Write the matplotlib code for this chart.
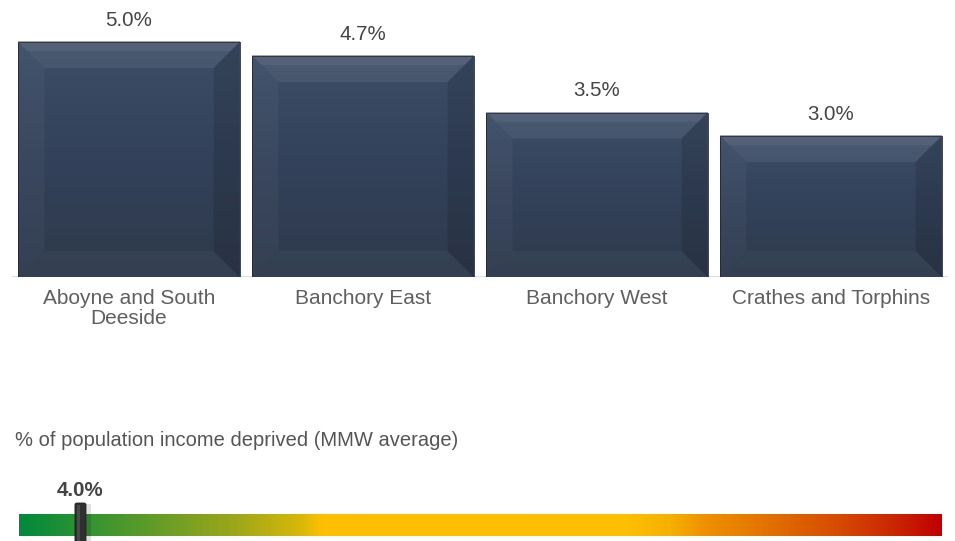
import numpy as np
import matplotlib
matplotlib.use("Agg")
import matplotlib.pyplot as plt
from matplotlib.colors import LinearSegmentedColormap
from matplotlib.patches import Polygon, FancyBboxPatch, Rectangle
import matplotlib.transforms as mtransforms

plt.rcParams['font.family'] = ['Liberation Sans', 'DejaVu Sans']

# ---------------- data ----------------
categories = ["Aboyne and South\nDeeside", "Banchory East", "Banchory West", "Crathes and Torphins"]
values = [5.0, 4.7, 3.5, 3.0]
value_labels = ["5.0%", "4.7%", "3.5%", "3.0%"]
gauge_title = "% of population income deprived (MMW average)"
gauge_value = 4.0
gauge_label = "4.0%"
gauge_min, gauge_max = 0.0, 60.0

W, H = 955, 541
fig = plt.figure(figsize=(W / 100, H / 100), dpi=100)
fig.patch.set_facecolor("white")

# ---------------- bar chart ----------------
ax_l, ax_r, ax_top, ax_bot = 12, 948, 0, 277
ax = fig.add_axes([ax_l / W, 1 - ax_bot / H, (ax_r - ax_l) / W, (ax_bot - ax_top) / H])
ymax = 277 / 47.0
ax.set_xlim(-0.5, len(values) - 0.5)
ax.set_ylim(0, ymax)
for s in ax.spines.values():
    s.set_visible(False)
ax.set_yticks([])
x = np.arange(len(values))
bw = 0.945
bars = ax.bar(x, values, width=bw, color="#36445a", edgecolor="none", zorder=2)
ax.set_xticks(x)
ax.set_xticklabels(categories, fontsize=15, color="#5f5f5f", linespacing=1.0)
ax.tick_params(axis="x", length=0, pad=9)
ax.axhline(0, color="#d9d9d9", lw=1.2, zorder=1)

px_x = (ax_r - ax_l) / len(values)
px_y = 47.0
bev = 26
bx, by = bev / px_x, bev / px_y

grad_cmap = LinearSegmentedColormap.from_list("body", ["#2e3a4c", "#33415a", "#3d4e67"])
grad = np.linspace(0, 1, 256).reshape(-1, 1)
for b in bars:
    x0, w, h = b.get_x(), b.get_width(), b.get_height()
    x1 = x0 + w
    im = ax.imshow(grad, extent=[x0, x1, h, 0], aspect="auto", cmap=grad_cmap,
                   zorder=2.5, origin="upper")
    im.set_clip_path(b)
    # bevels (soft)
    top = Polygon([[x0, h], [x1, h], [x1 - bx, h - by], [x0 + bx, h - by]],
                  closed=True, facecolor="white", alpha=0.07, edgecolor="none", zorder=3)
    left = Polygon([[x0, h], [x0 + bx, h - by], [x0 + bx, by], [x0, 0]],
                   closed=True, facecolor="white", alpha=0.035, edgecolor="none", zorder=3)
    right = Polygon([[x1, h], [x1 - bx, h - by], [x1 - bx, by], [x1, 0]],
                    closed=True, facecolor="black", alpha=0.12, edgecolor="none", zorder=3)
    bottom = Polygon([[x0, 0], [x1, 0], [x1 - bx, by], [x0 + bx, by]],
                     closed=True, facecolor="white", alpha=0.03, edgecolor="none", zorder=3)
    for p in (top, left, right, bottom):
        ax.add_patch(p)
    # lighter strip right at the top edge
    ax.add_patch(Polygon([[x0, h], [x1, h], [x1 - bx * 0.35, h - by * 0.35],
                          [x0 + bx * 0.35, h - by * 0.35]], closed=True,
                         facecolor="white", alpha=0.06, edgecolor="none", zorder=3))
    ax.plot([x0, x1], [h, h], color="#8d97a6", lw=1.2, zorder=4, solid_capstyle="butt")
    ax.add_patch(Rectangle((x0, 0), w, h, facecolor="none", edgecolor="#1f2835",
                           lw=0.6, zorder=4))

for xi, v, lab in zip(x, values, value_labels):
    ax.annotate(lab, (xi, v), xytext=(0, 12), textcoords="offset pixels",
                ha="center", va="bottom", fontsize=14.8, color="#444444")

# ---------------- gauge ----------------
fig.text(15 / W, 1 - 440 / H, gauge_title, fontsize=14.5, color="#555555",
         ha="left", va="center")

g_l, g_r, g_t, g_b = 19, 941, 514, 536
gax = fig.add_axes([g_l / W, 1 - g_b / H, (g_r - g_l) / W, (g_b - g_t) / H])
gax.set_xlim(gauge_min, gauge_max)
gax.set_ylim(0, 1)
gax.axis("off")
stops = [(0.0, "#008a3c"), (0.087, "#3c9530"), (0.23, "#9aa61a"), (0.305, "#d8b808"),
         (0.326, "#fdc000"), (0.66, "#fdc000"), (0.706, "#f6b000"), (0.742, "#ef9200"),
         (0.815, "#e27000"), (0.887, "#d64c00"), (0.959, "#c92000"), (1.0, "#c00000")]
gcmap = LinearSegmentedColormap.from_list("gauge", stops)
gax.imshow(np.linspace(0, 1, 512).reshape(1, -1), extent=[gauge_min, gauge_max, 0, 1],
           aspect="auto", cmap=gcmap, zorder=1)

mw = 11 / ((g_r - g_l) / (gauge_max - gauge_min))
# shadow
gax.add_patch(Rectangle((gauge_value + mw / 2, -0.5), mw * 0.5, 1.95, facecolor="black",
                        alpha=0.12, edgecolor="none", clip_on=False, zorder=2))
gax.add_patch(FancyBboxPatch((gauge_value - mw / 2, -0.5), mw, 2.0,
                             boxstyle="round,pad=0,rounding_size=0.15",
                             mutation_aspect=1 / 2.0,
                             facecolor="#2f2f2f", edgecolor="#1e1e1e", lw=0.6,
                             clip_on=False, zorder=3))
gax.add_patch(Rectangle((gauge_value - mw * 0.3, -0.5), mw * 0.25, 1.9, facecolor="#4a4a4a",
                        edgecolor="none", clip_on=False, zorder=4))
trans = mtransforms.blended_transform_factory(gax.transData, gax.transAxes)
gax.text(gauge_value, (g_b - 490) / (g_b - g_t), gauge_label, transform=trans,
         ha="center", va="center", fontsize=14.8, fontweight="bold", color="#444444")

fig.savefig("out.png", dpi=100, facecolor="white")
